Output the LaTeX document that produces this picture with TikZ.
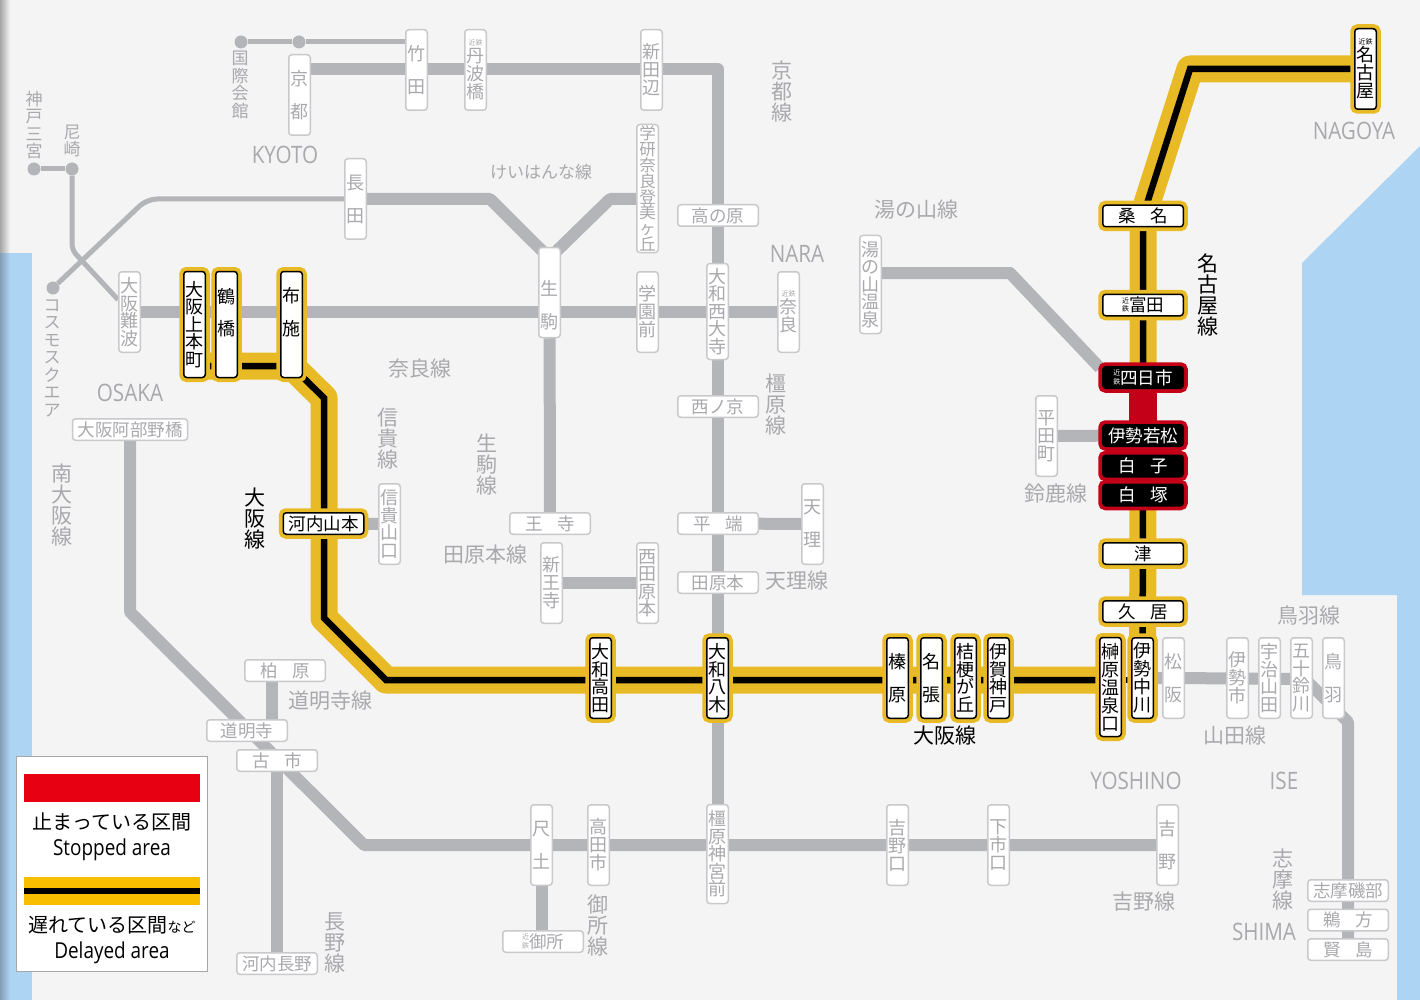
\documentclass[tikz,border=0pt]{standalone}
\usepackage{fontspec}
\setmainfont{Noto Sans CJK JP}
\newfontfamily\latinfont[FakeStretch=0.86]{Open Sans}
\usepackage{xcolor}
\usepackage{tikz}
\definecolor{landbg}{HTML}{F4F4F4}
\definecolor{seablue}{HTML}{AED4F3}
\definecolor{trkgrey}{HTML}{B4B5B8}
\definecolor{stngrey}{HTML}{C9C9CC}
\definecolor{txtgrey}{HTML}{A9A9AD}
\definecolor{dlyyellow}{HTML}{E8BA26}
\definecolor{stopred}{HTML}{C40018}
\definecolor{legred}{HTML}{E60012}
\definecolor{legyellow}{HTML}{FABE00}
\pgfdeclarelayer{land}
\pgfdeclarelayer{tracks}
\pgfsetlayers{land,tracks,main}
\newcommand{\fs}[2]{\fontsize{#1}{#2}\selectfont}
\newcommand{\kinV}{{\fs{7}{7}近鉄}}
\newcommand{\kinH}{{\fs{7}{7}\shortstack{近\\[-1pt]鉄}}}
\newcommand{\gapw}{\hspace{15pt}}
\tikzset{
	stnbase/.style={inner sep=0,align=center,rounded corners=3,line width=1.5},
	gstn/.style={stnbase,draw=stngrey,fill=white,text=txtgrey},
	dstn/.style={stnbase,preaction={draw=dlyyellow,line width=9},draw=black,fill=white,text=black},
	rstn/.style={stnbase,preaction={draw=stopred,line width=9},draw=black,fill=black,text=white},
	tbox/.style={minimum width=21.5,minimum height=#1},
	tbox/.default=80.5,
	ybox/.style={minimum width=#1,minimum height=21.5,font=\fs{17.5}{18}},
	ybox/.default=80.5,
	pitch/.style={font=\fs{18}{#1}},
	pitch/.default=17.5,
	two/.style={tbox,pitch=33},
	four/.style={tbox,pitch},
	lbl/.style={inner sep=0,align=center,text=txtgrey,font=\fs{21}{21}},
	lblsm/.style={inner sep=0,align=center,text=txtgrey,font=\fs{17}{17.5}},
	lblen/.style={inner sep=0,text=txtgrey,font=\fs{24}{24}\latinfont},
	lblk/.style={inner sep=0,align=center,text=black,font=\fs{21}{21}},
	enddot/.style={circle,fill=trkgrey,minimum size=13,inner sep=0},
	gtrk/.style={draw=trkgrey,line width=12,line join=round},
	gthin/.style={draw=trkgrey,line width=5},
	dlyy/.style={draw=dlyyellow,line width=27,line join=round},
	dlyk/.style={draw=black,line width=6.5},
}
\begin{document}
\begin{tikzpicture}[x=1pt,y=-1pt]
	\useasboundingbox (0,0) rectangle (1420,1000);

	% land and sea
	\begin{pgfonlayer}{land}
		\fill[landbg] (0,0) rectangle (1420,1000);
		\shade[left color=black!35,right color=landbg] (0,0) rectangle (10,253);
		\fill[seablue] (0,253) rectangle (32,1000);
		\shade[left color=seablue!75!black,right color=seablue] (0,253) rectangle (10,1000);
		\fill[seablue] (1420,146) -- (1302,263) -- (1302,595) -- (1397,595) -- (1397,1000) -- (1420,1000) -- cycle;
	\end{pgfonlayer}

	% stations not affected
	\begin{scope}
		\node[gstn,two] (Kyoto) at (299.5,95) {京\\都};
		\node[gstn,two] (Takeda) at (416.5,70) {竹\\田};
		\node[gstn,four,pitch=18] (Tambabashi) at (475.5,70) {\kinV\\[-1.5pt]丹\\波\\橋};
		\node[gstn,four,pitch=18] (Shintanabe) at (651.5,70) {新\\田\\辺};
		\node[gstn,two] (Nagata) at (355.5,199) {長\\田};
		\node[gstn,tbox=128,font=\fs{16.5}{15.8}] (Gakken) at (647.5,188.5) {学\\研\\奈\\良\\登\\美\\ヶ\\丘};
		\node[gstn,ybox] (Takanohara) at (718,215.5) {高の原};
		\node[gstn,four] (Namba) at (129.5,312) {大\\阪\\難\\波};
		\node[gstn,tbox=90,pitch=33] (Ikoma) at (549.5,292.5) {\mbox{}\\[7pt]生\\駒};
		\node[gstn,four,pitch=18] (Gakuemmae) at (647.5,312) {学\\園\\前};
		\node[gstn,tbox=96,pitch] (Saidaiji) at (717.5,311.5) {大\\和\\西\\大\\寺};
		\node[gstn,four,pitch=18] (KNara) at (788.5,312) {\kinV\\[-1.5pt]奈\\良};
		\node[gstn,ybox] (Nishinokyo) at (718,406.5) {西ノ京};
		\node[gstn,ybox] (Hirahata) at (718,523.5) {平\gapw 端};
		\node[gstn,ybox] (Tawaramoto) at (718,582.5) {田原本};
		\node[gstn,two] (Tenri) at (812.5,524) {天\\理};
		\node[gstn,ybox] (Oji) at (550,523.5) {王\gapw 寺};
		\node[gstn,four,pitch=18] (Shinoji) at (551.5,583) {新\\王\\寺};
		\node[gstn,four] (NishiTawara) at (647.5,583) {西\\田\\原\\本};
		\node[gstn,four] (ShigiYama) at (389.5,524) {信\\貴\\山\\口};
		\node[gstn,tbox=98,pitch] (Yunoyama) at (870.5,284.5) {湯\\の\\山\\温\\泉};
		\node[gstn,four,pitch=18] (Hiratacho) at (1046.5,436) {平\\田\\町};
		\node[gstn,ybox=115] (Abeno) at (130,429.5) {大阪阿部野橋};
		\node[gstn,ybox] (Kashiwara) at (285,670.5) {柏\gapw 原};
		\node[gstn,ybox] (Domyoji) at (247,730.5) {道明寺};
		\node[gstn,ybox] (Furuichi) at (277,760.5) {古\gapw 市};
		\node[gstn,ybox] (KawaNagano) at (277,963.5) {河内長野};
		\node[gstn,two] (Shakudo) at (541.5,845) {尺\\土};
		\node[gstn,four,pitch=18] (Takadashi) at (598.5,845) {高\\田\\市};
		\node[gstn,tbox=99,pitch] (Kashihara) at (717.5,854) {橿\\原\\神\\宮\\前};
		\node[gstn,four,pitch=18] (Yoshinoguchi) at (897.5,845) {吉\\野\\口};
		\node[gstn,four,pitch=18] (Shimoichi) at (998.5,845) {下\\市\\口};
		\node[gstn,two] (Yoshino) at (1167.5,845) {吉\\野};
		\node[gstn,ybox] (KGose) at (543,941.5) {\kinH 御所};
		\node[gstn,two] (Matsusaka) at (1173.5,678) {松\\阪};
		\node[gstn,four,pitch=18] (Iseshi) at (1237.5,678) {伊\\勢\\市};
		\node[gstn,four] (Ujiyamada) at (1269.5,678) {宇\\治\\山\\田};
		\node[gstn,four] (Isuzugawa) at (1301.5,678) {五\\十\\鈴\\川};
		\node[gstn,two] (Toba) at (1333.5,678) {鳥\\羽};
		\node[gstn,ybox] (Isobe) at (1348,890.5) {志摩磯部};
		\node[gstn,ybox] (Ugata) at (1348,920) {鵜\gapw 方};
		\node[gstn,ybox] (Kashikojima) at (1348,949.5) {賢\gapw 島};
	\end{scope}

	% delayed stations
	\begin{scope}
		\node[dstn,tbox=106,pitch] (Uehon) at (194.5,324.5) {大\\阪\\上\\本\\町};
		\node[dstn,tbox=106,pitch=32] (Tsuruhashi) at (226.5,324.5) {鶴\\橋\\[-6pt]\mbox{}};
		\node[dstn,tbox=106,pitch=33] (Fuse) at (291.5,324.5) {布\\施\\[-7pt]\mbox{}};
		\node[dstn,ybox] (KawaYama) at (323.5,523.5) {河内山本};
		\node[dstn,four] (YTakada) at (600.5,678) {大\\和\\高\\田};
		\node[dstn,four] (Yagi) at (717.5,678) {大\\和\\八\\木};
		\node[dstn,two] (Haibara) at (897.5,678) {榛\\原};
		\node[dstn,two] (Nabari) at (931.5,678) {名\\張};
		\node[dstn,four] (Kikyo) at (965.5,678) {桔\\梗\\が\\丘};
		\node[dstn,four] (Kambe) at (998.5,678) {伊\\賀\\神\\戸};
		\node[dstn,tbox=99,pitch=18] (Sakakibara) at (1110.5,687) {榊\\原\\温\\泉\\口};
		\node[dstn,four,pitch=18] (Nakagawa) at (1142.5,678) {伊\\勢\\中\\川};
		\node[dstn,ybox] (Hisai) at (1143,611.5) {久\gapw 居};
		\node[dstn,ybox] (Tsu) at (1143,553.5) {津};
		\node[dstn,ybox] (Tomida) at (1143,305) {\kinH 富田};
		\node[dstn,ybox] (Kuwana) at (1143,216) {桑\gapw 名};
		\node[dstn,four,pitch=18] (KNagoya) at (1365.5,69) {\kinV\\[-1.5pt]名\\古\\屋};
	\end{scope}

	% stopped stations
	\begin{scope}
		\node[rstn,ybox] (Yokkaichi) at (1143,377.5) {\kinH 四日市};
		\node[rstn,ybox] (Wakamatsu) at (1143,435.5) {伊勢若松};
		\node[rstn,ybox] (Shiroko) at (1143,466) {白\gapw 子};
		\node[rstn,ybox] (Shirotsuka) at (1143,495) {白\gapw 塚};
	\end{scope}

	% end dots
	\node[enddot] (Kokusai) at (241,42) {};
	\node[enddot] (KyotoDot) at (299,42) {};
	\node[enddot] (Sannomiya) at (34,169) {};
	\node[enddot] (Amagasaki) at (72,169) {};
	\node[enddot] (Cosmo) at (53,288) {};

	% bends of the lines
	\coordinate (cTop) at (717.5,69);
	\coordinate (cAma) at (72,250);
	\coordinate (cCosmo) at (147,199);
	\coordinate (cNag) at (490,199);
	\coordinate (cGak) at (610,199);
	\coordinate (cYuno) at (1010,273);
	\coordinate (cYunoE) at (1100,368);
	\coordinate (cAbeA) at (130,612);
	\coordinate (cAbeB) at (364,845);
	\coordinate (cKashi) at (272,670);
	\coordinate (cTobaA) at (1305,679);
	\coordinate (cTobaB) at (1348,722);
	\coordinate (cFuse) at (291.5,366);
	\coordinate (cOsA) at (324,398);
	\coordinate (cOsB) at (324,618);
	\coordinate (cOsC) at (386,680);
	\coordinate (cNagoya) at (1190,69);

	\begin{pgfonlayer}{tracks}
		\draw[gthin] (Kokusai) -- (KyotoDot) -- (KyotoDot -| Takeda);
		\draw[gthin] (Sannomiya) -- (Amagasaki);
		\draw[gthin,rounded corners=6] (Amagasaki) -- (cAma) -- (Namba);
		\draw[gthin,rounded corners=10] (Cosmo) -- (cCosmo) -- (Nagata);

		\path[gtrk] (Kyoto |- cTop) -- (cTop) -- (Kashihara);
		\path[gtrk] (Namba) -- (KNara);
		\path[gtrk,shorten >=-6] (Nagata) -- (cNag) -- (Ikoma.north west);
		\path[gtrk,shorten >=-6] (Gakken |- cGak) -- (cGak) -- (Ikoma.north east);
		\path[gtrk] (Ikoma) -- (Oji);
		\path[gtrk] (Yunoyama |- cYuno) -- (cYuno) -- (cYunoE);
		\path[gtrk] (Hiratacho) -- (Wakamatsu);
		\path[gtrk] (Tenri) -- (Hirahata);
		\path[gtrk] (Shinoji) -- (NishiTawara);
		\path[gtrk] (ShigiYama) -- (KawaYama);
		\path[gtrk] (Abeno) -- (cAbeA) -- (cAbeB) -- (Yoshino);
		\path[gtrk] (cKashi) -- (cKashi |- Domyoji);
		\path[gtrk] (Furuichi) -- (KawaNagano);
		\path[gtrk] (Shakudo) -- (Shakudo |- KGose);
		\path[gtrk] (Nakagawa) -- (Matsusaka) -- (cTobaA) -- (cTobaB) -- (Kashikojima);

		\foreach \trk in {dlyy,dlyk}
			\path[\trk] (Uehon |- cFuse) -- (cFuse) -- (cOsA) -- (cOsB) -- (cOsC) -- (Sakakibara |- cOsC);
		\path[dlyk] (Sakakibara |- cOsC) -- (Nakagawa |- cOsC);
		\foreach \trk in {dlyy,dlyk} {
			\path[\trk] (Nakagawa) -- (Shirotsuka);
			\path[\trk] (Yokkaichi) -- (Kuwana) -- (cNagoya) -- (KNagoya);
		}
		\draw[stopred,line width=28] (Yokkaichi) -- (Wakamatsu);
	\end{pgfonlayer}

	% place and line names
	\begin{scope}
		\node[lblsm] (lbSannomiya) at (34,125) {神\\戸\\三\\宮};
		\node[lblsm] (lbAmagasaki) at (72,141) {尼\\崎};
		\node[lblsm] (lbKokusai) at (240,85) {国\\際\\会\\館};
		\node[lblsm] (lbCosmo) at (52,358) {コ\\ス\\モ\\ス\\ク\\エ\\ア};
		\node[lblsm] (lbKeihanna) at (541,172) {けいはんな線};
		\node[lbl] (lbKyotoLn) at (782,92) {京\\都\\線};
		\node[lbl] (lbYunoLn) at (916,210) {湯の山線};
		\node[lbl] (lbNaraLn) at (420,369) {奈良線};
		\node[lbl] (lbShigiLn) at (388,439) {信\\貴\\線};
		\node[lbl] (lbIkomaLn) at (487,465) {生\\駒\\線};
		\node[lbl] (lbMinami) at (62,505) {南\\大\\阪\\線};
		\node[lbl] (lbTawara) at (485,555) {田原本線};
		\node[lbl] (lbTenri) at (797,581) {天理線};
		\node[lbl] (lbKashi) at (776,405) {橿\\原\\線};
		\node[lbl] (lbSuzuka) at (1056,494) {鈴鹿線};
		\node[lbl] (lbToba) at (1309,615) {鳥羽線};
		\node[lbl] (lbYamada) at (1235,736) {山田線};
		\node[lbl] (lbDomyo) at (330,701) {道明寺線};
		\node[lbl] (lbShima) at (1283,880) {志\\摩\\線};
		\node[lbl] (lbYoshino) at (1144,902) {吉野線};
		\node[lbl] (lbGose) at (598,925) {御\\所\\線};
		\node[lbl] (lbNagano) at (335,943) {長\\野\\線};
		\node[lblk] (lbOsakaV) at (255,519) {大\\阪\\線};
		\node[lblk] (lbNagoyaLn) at (1208,295) {名\\古\\屋\\線};
		\node[lblk] (lbOsakaH) at (945,736) {大阪線};
		\node[lblen] (enKyoto) at (285,155) {KYOTO};
		\node[lblen] (enNara) at (797,254) {NARA};
		\node[lblen] (enOsaka) at (130,393) {OSAKA};
		\node[lblen] (enNagoya) at (1354,131) {NAGOYA};
		\node[lblen] (enYoshino) at (1136,781) {YOSHINO};
		\node[lblen] (enIse) at (1284,781) {ISE};
		\node[lblen] (enShima) at (1264,932) {SHIMA};
	\end{scope}

	% legend
	\node[draw=black!35,line width=1.2,fill=white,minimum width=191,minimum height=215,inner sep=0] (Legend) at (112,864) {};
	\node[fill=legred,minimum width=176,minimum height=28,inner sep=0] (barStop) at (112,788) {};
	\node[fill=legyellow,minimum width=176,minimum height=28,inner sep=0] (barDelay) at (112,891) {};
	\node[fill=black,minimum width=176,minimum height=6,inner sep=0] (barDelayK) at (barDelay) {};
	\node[inner sep=0,font=\fs{20}{20}] (txtStopJ) at (112,822) {止まっている区間};
	\node[inner sep=0,font=\fs{22}{22}\latinfont] (txtStopE) at (112,850) {Stopped area};
	\node[inner sep=0,font=\fs{20}{20}] (txtDelayJ) at (112,925) {遅れている区間{\fs{14}{14}など}};
	\node[inner sep=0,font=\fs{22}{22}\latinfont] (txtDelayE) at (112,953) {Delayed area};
\end{tikzpicture}
\end{document}
